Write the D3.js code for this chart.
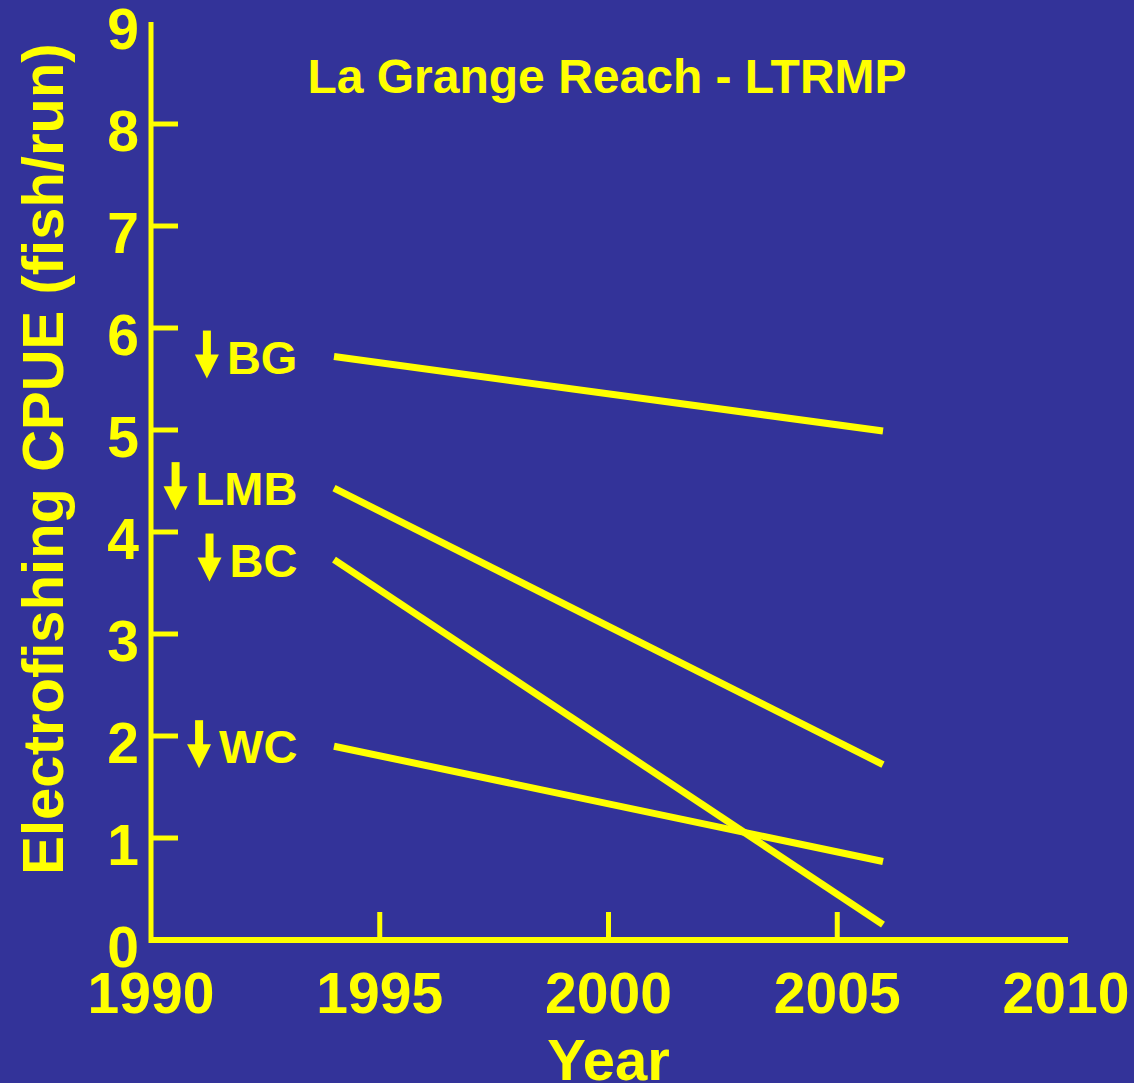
<!DOCTYPE html>
<html>
<head>
<meta charset="utf-8">
<script src="https://cdn.jsdelivr.net/npm/d3@7"></script>
<style>
  html, body { margin: 0; padding: 0; background: #333399; }
  svg { display: block; }
  text { font-family: "Liberation Sans", Arial, sans-serif; font-weight: bold; fill: #ffff00; }
</style>
</head>
<body>
<svg id="chart" width="1134" height="1083"></svg>
<script>
// Electrofishing CPUE trend lines, La Grange Reach
const species = ["BG", "LMB", "BC", "WC"];
const startYear = 1994;
const endYear = 2006;
const startValues = [5.72, 4.43, 3.73, 1.90];
const endValues = [4.99, 1.72, 0.15, 0.77];

const xTicks = [1990, 1995, 2000, 2005, 2010];
const yTicks = [0, 1, 2, 3, 4, 5, 6, 7, 8, 9];

const chartTitle = "La Grange Reach - LTRMP";
const xTitle = "Year";
const yTitle = "Electrofishing CPUE (fish/run)";

const W = 1134, H = 1083;
const yellow = "#ffff00";

const svg = d3.select("#chart");
svg.append("rect").attr("width", W).attr("height", H).attr("fill", "#333399");

const x = d3.scaleLinear().domain([1990, 2010]).range([151, 1066]);
const y = d3.scaleLinear().domain([0, 9]).range([940, 22]);

// axes lines
svg.append("line")
  .attr("x1", x(1990)).attr("x2", x(1990))
  .attr("y1", y(9)).attr("y2", y(0) + 3)
  .attr("stroke", yellow).attr("stroke-width", 5);
svg.append("line")
  .attr("x1", x(1990) - 2).attr("x2", x(2010) + 2)
  .attr("y1", y(0)).attr("y2", y(0))
  .attr("stroke", yellow).attr("stroke-width", 6);

// y ticks (inward) and labels
const yTickMarks = yTicks.filter(t => t > 0 && t < 9);
svg.selectAll(".ytick").data(yTickMarks).enter().append("line")
  .attr("x1", x(1990)).attr("x2", x(1990) + 27)
  .attr("y1", d => y(d)).attr("y2", d => y(d))
  .attr("stroke", yellow).attr("stroke-width", 5);
svg.selectAll(".ylab").data(yTicks).enter().append("text")
  .attr("x", 139).attr("y", d => y(d) + 27)
  .attr("text-anchor", "end")
  .attr("font-size", 57)
  .text(d => d);

// x ticks (upward) and labels
const xTickMarks = xTicks.filter(t => t > 1990 && t < 2010);
svg.selectAll(".xtick").data(xTickMarks).enter().append("line")
  .attr("x1", d => x(d)).attr("x2", d => x(d))
  .attr("y1", y(0)).attr("y2", y(0) - 28)
  .attr("stroke", yellow).attr("stroke-width", 5);
svg.selectAll(".xlab").data(xTicks).enter().append("text")
  .attr("x", d => x(d)).attr("y", 1013)
  .attr("text-anchor", "middle")
  .attr("font-size", 57)
  .text(d => d);

// titles
svg.append("text")
  .attr("x", 607).attr("y", 93)
  .attr("text-anchor", "middle")
  .attr("font-size", 48)
  .text(chartTitle);
svg.append("text")
  .attr("x", x(2000)).attr("y", 1080)
  .attr("text-anchor", "middle")
  .attr("font-size", 58)
  .text(xTitle);
svg.append("text")
  .attr("transform", "translate(63,459) rotate(-90)")
  .attr("text-anchor", "middle")
  .attr("font-size", 58)
  .text(yTitle);

// trend lines
const rows = species.map((s, i) => ({ name: s, v0: startValues[i], v1: endValues[i] }));
svg.selectAll(".trend").data(rows).enter().append("line")
  .attr("x1", x(startYear)).attr("x2", x(endYear))
  .attr("y1", d => y(d.v0)).attr("y2", d => y(d.v1))
  .attr("stroke", yellow).attr("stroke-width", 7)
  .attr("stroke-linecap", "butt");

// species labels with downward arrows
const labelRight = x(1993.2);
const fs = 47;
rows.forEach(d => {
  const cy = y(d.v0);
  const t = svg.append("text")
    .attr("x", labelRight).attr("y", cy + 17)
    .attr("text-anchor", "end")
    .attr("font-size", fs)
    .text(d.name);
  const bb = t.node().getBBox();
  const left = bb.x;
  const ax = left - 8 - 12;          // arrow centre
  const top = cy - 26;
  const tip = cy + 22;
  const headTop = tip - 24;
  svg.append("rect")
    .attr("x", ax - 4).attr("y", top)
    .attr("width", 8).attr("height", headTop - top + 1)
    .attr("fill", yellow);
  svg.append("path")
    .attr("d", `M${ax - 12},${headTop} L${ax + 12},${headTop} L${ax},${tip} Z`)
    .attr("fill", yellow);
});
</script>
</body>
</html>
